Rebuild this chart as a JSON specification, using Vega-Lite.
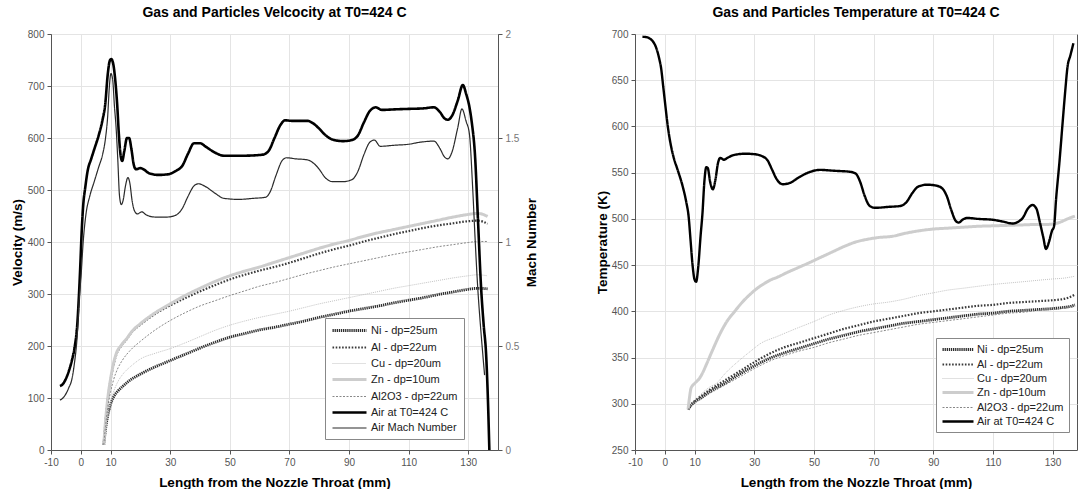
{
  "$schema": "https://vega.github.io/schema/vega-lite/v6.json",
  "padding": {"left": 9, "top": 5, "right": 0, "bottom": 0},
  "spacing": 55,
  "config": {
    "font": "Liberation Sans",
    "view": {"stroke": "#555555", "strokeWidth": 1},
    "axis": {
      "labelFont": "Liberation Sans", "labelFontSize": 10, "labelColor": "#555555",
      "titleFont": "Liberation Sans", "titleFontSize": 13.5, "titleFontWeight": "bold", "titleColor": "#000000",
      "gridColor": "#e4e4e4", "domainColor": "#555555", "tickColor": "#555555", "tickSize": 4, "labelPadding": 3
    },
    "title": {"font": "Liberation Sans", "fontSize": 14, "fontWeight": "bold", "color": "#000000", "offset": 9, "frame": "group"}
  },
  "datasets": {
    "vel": [
      {"s":"Ni - dp=25um","x":7.7,"v":10},{"s":"Ni - dp=25um","x":8.3,"v":40},{"s":"Ni - dp=25um","x":9,"v":65},{"s":"Ni - dp=25um","x":10,"v":88},{"s":"Ni - dp=25um","x":11,"v":102},{"s":"Ni - dp=25um","x":12.4,"v":113},{"s":"Ni - dp=25um","x":14,"v":122},{"s":"Ni - dp=25um","x":16,"v":132},{"s":"Ni - dp=25um","x":20,"v":146},{"s":"Ni - dp=25um","x":25,"v":160},{"s":"Ni - dp=25um","x":30,"v":172},{"s":"Ni - dp=25um","x":35,"v":184},{"s":"Ni - dp=25um","x":40,"v":196},{"s":"Ni - dp=25um","x":45,"v":207},{"s":"Ni - dp=25um","x":50,"v":217},{"s":"Ni - dp=25um","x":55,"v":224},{"s":"Ni - dp=25um","x":60,"v":231},{"s":"Ni - dp=25um","x":65,"v":236},{"s":"Ni - dp=25um","x":70,"v":242},{"s":"Ni - dp=25um","x":75,"v":248},{"s":"Ni - dp=25um","x":80,"v":255},{"s":"Ni - dp=25um","x":85,"v":261},{"s":"Ni - dp=25um","x":90,"v":267},{"s":"Ni - dp=25um","x":95,"v":272},{"s":"Ni - dp=25um","x":100,"v":277},{"s":"Ni - dp=25um","x":105,"v":283},{"s":"Ni - dp=25um","x":110,"v":288},{"s":"Ni - dp=25um","x":115,"v":293},{"s":"Ni - dp=25um","x":120,"v":299},{"s":"Ni - dp=25um","x":125,"v":304},{"s":"Ni - dp=25um","x":130,"v":309},{"s":"Ni - dp=25um","x":133,"v":311},{"s":"Ni - dp=25um","x":136.5,"v":310},
      {"s":"Al - dp=22um","x":7.7,"v":10},{"s":"Al - dp=22um","x":8.3,"v":55},{"s":"Al - dp=22um","x":9,"v":95},{"s":"Al - dp=22um","x":10,"v":135},{"s":"Al - dp=22um","x":11,"v":165},{"s":"Al - dp=22um","x":12,"v":185},{"s":"Al - dp=22um","x":13.5,"v":200},{"s":"Al - dp=22um","x":15.5,"v":214},{"s":"Al - dp=22um","x":17,"v":226},{"s":"Al - dp=22um","x":20,"v":241},{"s":"Al - dp=22um","x":25,"v":262},{"s":"Al - dp=22um","x":30,"v":278},{"s":"Al - dp=22um","x":35,"v":292},{"s":"Al - dp=22um","x":40,"v":305},{"s":"Al - dp=22um","x":45,"v":317},{"s":"Al - dp=22um","x":50,"v":328},{"s":"Al - dp=22um","x":55,"v":337},{"s":"Al - dp=22um","x":60,"v":345},{"s":"Al - dp=22um","x":65,"v":352},{"s":"Al - dp=22um","x":70,"v":360},{"s":"Al - dp=22um","x":75,"v":369},{"s":"Al - dp=22um","x":80,"v":378},{"s":"Al - dp=22um","x":85,"v":386},{"s":"Al - dp=22um","x":90,"v":393},{"s":"Al - dp=22um","x":95,"v":401},{"s":"Al - dp=22um","x":100,"v":408},{"s":"Al - dp=22um","x":105,"v":415},{"s":"Al - dp=22um","x":110,"v":421},{"s":"Al - dp=22um","x":115,"v":427},{"s":"Al - dp=22um","x":120,"v":432},{"s":"Al - dp=22um","x":125,"v":436},{"s":"Al - dp=22um","x":130,"v":440},{"s":"Al - dp=22um","x":133,"v":441},{"s":"Al - dp=22um","x":135,"v":439},{"s":"Al - dp=22um","x":136.5,"v":435},
      {"s":"Cu - dp=20um","x":7.7,"v":10},{"s":"Cu - dp=20um","x":8.3,"v":38},{"s":"Cu - dp=20um","x":9,"v":66},{"s":"Cu - dp=20um","x":10,"v":93},{"s":"Cu - dp=20um","x":11,"v":112},{"s":"Cu - dp=20um","x":12.5,"v":132},{"s":"Cu - dp=20um","x":14,"v":145},{"s":"Cu - dp=20um","x":17,"v":162},{"s":"Cu - dp=20um","x":20,"v":175},{"s":"Cu - dp=20um","x":25,"v":186},{"s":"Cu - dp=20um","x":30,"v":195},{"s":"Cu - dp=20um","x":35,"v":206},{"s":"Cu - dp=20um","x":40,"v":218},{"s":"Cu - dp=20um","x":45,"v":230},{"s":"Cu - dp=20um","x":50,"v":240},{"s":"Cu - dp=20um","x":55,"v":248},{"s":"Cu - dp=20um","x":60,"v":255},{"s":"Cu - dp=20um","x":65,"v":261},{"s":"Cu - dp=20um","x":70,"v":267},{"s":"Cu - dp=20um","x":75,"v":274},{"s":"Cu - dp=20um","x":80,"v":281},{"s":"Cu - dp=20um","x":85,"v":287},{"s":"Cu - dp=20um","x":90,"v":293},{"s":"Cu - dp=20um","x":95,"v":299},{"s":"Cu - dp=20um","x":100,"v":305},{"s":"Cu - dp=20um","x":105,"v":311},{"s":"Cu - dp=20um","x":110,"v":316},{"s":"Cu - dp=20um","x":115,"v":321},{"s":"Cu - dp=20um","x":120,"v":326},{"s":"Cu - dp=20um","x":125,"v":331},{"s":"Cu - dp=20um","x":130,"v":335},{"s":"Cu - dp=20um","x":133,"v":337},{"s":"Cu - dp=20um","x":136.5,"v":335},
      {"s":"Zn - dp=10um","x":7.7,"v":10},{"s":"Zn - dp=10um","x":8.3,"v":56},{"s":"Zn - dp=10um","x":9,"v":97},{"s":"Zn - dp=10um","x":10,"v":137},{"s":"Zn - dp=10um","x":11,"v":167},{"s":"Zn - dp=10um","x":12,"v":187},{"s":"Zn - dp=10um","x":13.5,"v":201},{"s":"Zn - dp=10um","x":15.5,"v":215},{"s":"Zn - dp=10um","x":17,"v":227},{"s":"Zn - dp=10um","x":20,"v":243},{"s":"Zn - dp=10um","x":25,"v":264},{"s":"Zn - dp=10um","x":30,"v":281},{"s":"Zn - dp=10um","x":35,"v":297},{"s":"Zn - dp=10um","x":40,"v":311},{"s":"Zn - dp=10um","x":45,"v":324},{"s":"Zn - dp=10um","x":50,"v":335},{"s":"Zn - dp=10um","x":55,"v":344},{"s":"Zn - dp=10um","x":60,"v":352},{"s":"Zn - dp=10um","x":65,"v":361},{"s":"Zn - dp=10um","x":70,"v":370},{"s":"Zn - dp=10um","x":75,"v":379},{"s":"Zn - dp=10um","x":80,"v":388},{"s":"Zn - dp=10um","x":85,"v":396},{"s":"Zn - dp=10um","x":90,"v":403},{"s":"Zn - dp=10um","x":95,"v":411},{"s":"Zn - dp=10um","x":100,"v":418},{"s":"Zn - dp=10um","x":105,"v":424},{"s":"Zn - dp=10um","x":110,"v":430},{"s":"Zn - dp=10um","x":115,"v":436},{"s":"Zn - dp=10um","x":120,"v":442},{"s":"Zn - dp=10um","x":125,"v":448},{"s":"Zn - dp=10um","x":130,"v":453},{"s":"Zn - dp=10um","x":133,"v":455},{"s":"Zn - dp=10um","x":135,"v":453},{"s":"Zn - dp=10um","x":136.5,"v":449},
      {"s":"Al2O3 - dp=22um","x":7.7,"v":10},{"s":"Al2O3 - dp=22um","x":8.3,"v":45},{"s":"Al2O3 - dp=22um","x":9,"v":80},{"s":"Al2O3 - dp=22um","x":10,"v":112},{"s":"Al2O3 - dp=22um","x":11,"v":135},{"s":"Al2O3 - dp=22um","x":12.5,"v":158},{"s":"Al2O3 - dp=22um","x":14,"v":173},{"s":"Al2O3 - dp=22um","x":17,"v":194},{"s":"Al2O3 - dp=22um","x":20,"v":209},{"s":"Al2O3 - dp=22um","x":25,"v":231},{"s":"Al2O3 - dp=22um","x":30,"v":249},{"s":"Al2O3 - dp=22um","x":35,"v":264},{"s":"Al2O3 - dp=22um","x":40,"v":277},{"s":"Al2O3 - dp=22um","x":45,"v":287},{"s":"Al2O3 - dp=22um","x":50,"v":297},{"s":"Al2O3 - dp=22um","x":55,"v":306},{"s":"Al2O3 - dp=22um","x":60,"v":315},{"s":"Al2O3 - dp=22um","x":65,"v":322},{"s":"Al2O3 - dp=22um","x":70,"v":330},{"s":"Al2O3 - dp=22um","x":75,"v":338},{"s":"Al2O3 - dp=22um","x":80,"v":345},{"s":"Al2O3 - dp=22um","x":85,"v":352},{"s":"Al2O3 - dp=22um","x":90,"v":358},{"s":"Al2O3 - dp=22um","x":95,"v":364},{"s":"Al2O3 - dp=22um","x":100,"v":370},{"s":"Al2O3 - dp=22um","x":105,"v":376},{"s":"Al2O3 - dp=22um","x":110,"v":381},{"s":"Al2O3 - dp=22um","x":115,"v":386},{"s":"Al2O3 - dp=22um","x":120,"v":391},{"s":"Al2O3 - dp=22um","x":125,"v":395},{"s":"Al2O3 - dp=22um","x":130,"v":399},{"s":"Al2O3 - dp=22um","x":133,"v":401},{"s":"Al2O3 - dp=22um","x":136.5,"v":401}
    ],
    "air": [
      {"s":"Air at T0=424 C","x":-7,"v":123},{"s":"Air at T0=424 C","x":-6,"v":127},{"s":"Air at T0=424 C","x":-5,"v":137},{"s":"Air at T0=424 C","x":-4,"v":152},{"s":"Air at T0=424 C","x":-3,"v":172},{"s":"Air at T0=424 C","x":-2,"v":200},{"s":"Air at T0=424 C","x":-1.2,"v":240},{"s":"Air at T0=424 C","x":-0.6,"v":300},{"s":"Air at T0=424 C","x":-0.2,"v":350},{"s":"Air at T0=424 C","x":0.3,"v":420},{"s":"Air at T0=424 C","x":0.8,"v":470},{"s":"Air at T0=424 C","x":1.5,"v":505},{"s":"Air at T0=424 C","x":2.3,"v":537},{"s":"Air at T0=424 C","x":3.5,"v":560},{"s":"Air at T0=424 C","x":4.5,"v":578},{"s":"Air at T0=424 C","x":6,"v":605},{"s":"Air at T0=424 C","x":7.3,"v":635},{"s":"Air at T0=424 C","x":8.2,"v":665},{"s":"Air at T0=424 C","x":9,"v":720},{"s":"Air at T0=424 C","x":9.7,"v":748},{"s":"Air at T0=424 C","x":10.2,"v":752},{"s":"Air at T0=424 C","x":10.9,"v":742},{"s":"Air at T0=424 C","x":11.5,"v":715},{"s":"Air at T0=424 C","x":12.2,"v":665},{"s":"Air at T0=424 C","x":12.8,"v":605},{"s":"Air at T0=424 C","x":13.4,"v":565},{"s":"Air at T0=424 C","x":13.9,"v":556},{"s":"Air at T0=424 C","x":14.6,"v":575},{"s":"Air at T0=424 C","x":15.5,"v":600},{"s":"Air at T0=424 C","x":16.2,"v":600},{"s":"Air at T0=424 C","x":17,"v":578},{"s":"Air at T0=424 C","x":17.8,"v":548},{"s":"Air at T0=424 C","x":18.5,"v":540},{"s":"Air at T0=424 C","x":20,"v":542},{"s":"Air at T0=424 C","x":21,"v":540},{"s":"Air at T0=424 C","x":23,"v":532},{"s":"Air at T0=424 C","x":26,"v":529},{"s":"Air at T0=424 C","x":29,"v":530},{"s":"Air at T0=424 C","x":32,"v":537},{"s":"Air at T0=424 C","x":34,"v":546},{"s":"Air at T0=424 C","x":36,"v":570},{"s":"Air at T0=424 C","x":38,"v":590},{"s":"Air at T0=424 C","x":40,"v":590},{"s":"Air at T0=424 C","x":42,"v":583},{"s":"Air at T0=424 C","x":45,"v":572},{"s":"Air at T0=424 C","x":48,"v":566},{"s":"Air at T0=424 C","x":55,"v":566},{"s":"Air at T0=424 C","x":61,"v":568},{"s":"Air at T0=424 C","x":63,"v":575},{"s":"Air at T0=424 C","x":65,"v":600},{"s":"Air at T0=424 C","x":67,"v":625},{"s":"Air at T0=424 C","x":68.5,"v":634},{"s":"Air at T0=424 C","x":71,"v":633},{"s":"Air at T0=424 C","x":76,"v":633},{"s":"Air at T0=424 C","x":78,"v":628},{"s":"Air at T0=424 C","x":80,"v":618},{"s":"Air at T0=424 C","x":82,"v":606},{"s":"Air at T0=424 C","x":84.5,"v":597},{"s":"Air at T0=424 C","x":88,"v":594},{"s":"Air at T0=424 C","x":91,"v":596},{"s":"Air at T0=424 C","x":93,"v":605},{"s":"Air at T0=424 C","x":95,"v":630},{"s":"Air at T0=424 C","x":97,"v":652},{"s":"Air at T0=424 C","x":99,"v":659},{"s":"Air at T0=424 C","x":101,"v":654},{"s":"Air at T0=424 C","x":105,"v":655},{"s":"Air at T0=424 C","x":110,"v":656},{"s":"Air at T0=424 C","x":115,"v":657},{"s":"Air at T0=424 C","x":118.5,"v":659},{"s":"Air at T0=424 C","x":120.5,"v":650},{"s":"Air at T0=424 C","x":122,"v":638},{"s":"Air at T0=424 C","x":123.2,"v":635},{"s":"Air at T0=424 C","x":124.5,"v":642},{"s":"Air at T0=424 C","x":126.5,"v":672},{"s":"Air at T0=424 C","x":128.2,"v":702},{"s":"Air at T0=424 C","x":129.3,"v":685},{"s":"Air at T0=424 C","x":130.4,"v":660},{"s":"Air at T0=424 C","x":131.2,"v":630},{"s":"Air at T0=424 C","x":132.3,"v":565},{"s":"Air at T0=424 C","x":133.3,"v":440},{"s":"Air at T0=424 C","x":134.3,"v":315},{"s":"Air at T0=424 C","x":135.2,"v":240},{"s":"Air at T0=424 C","x":136,"v":185},{"s":"Air at T0=424 C","x":136.6,"v":100},{"s":"Air at T0=424 C","x":137.1,"v":0}
    ],
    "mach": [
      {"s":"Air Mach Number","x":-7,"m":0.24},{"s":"Air Mach Number","x":-6,"m":0.25},{"s":"Air Mach Number","x":-5,"m":0.27},{"s":"Air Mach Number","x":-4,"m":0.3},{"s":"Air Mach Number","x":-3,"m":0.34},{"s":"Air Mach Number","x":-2.2,"m":0.41},{"s":"Air Mach Number","x":-1.2,"m":0.55},{"s":"Air Mach Number","x":-0.5,"m":0.73},{"s":"Air Mach Number","x":0.1,"m":0.84},{"s":"Air Mach Number","x":0.8,"m":1.0},{"s":"Air Mach Number","x":1.7,"m":1.13},{"s":"Air Mach Number","x":3,"m":1.22},{"s":"Air Mach Number","x":4.5,"m":1.29},{"s":"Air Mach Number","x":6,"m":1.36},{"s":"Air Mach Number","x":7.3,"m":1.42},{"s":"Air Mach Number","x":8.3,"m":1.5},{"s":"Air Mach Number","x":9,"m":1.6},{"s":"Air Mach Number","x":9.6,"m":1.75},{"s":"Air Mach Number","x":10.1,"m":1.81},{"s":"Air Mach Number","x":10.7,"m":1.78},{"s":"Air Mach Number","x":11.3,"m":1.65},{"s":"Air Mach Number","x":11.8,"m":1.56},{"s":"Air Mach Number","x":12.4,"m":1.4},{"s":"Air Mach Number","x":13,"m":1.22},{"s":"Air Mach Number","x":13.6,"m":1.18},{"s":"Air Mach Number","x":14.2,"m":1.2},{"s":"Air Mach Number","x":15,"m":1.27},{"s":"Air Mach Number","x":15.8,"m":1.31},{"s":"Air Mach Number","x":16.5,"m":1.28},{"s":"Air Mach Number","x":17.2,"m":1.2},{"s":"Air Mach Number","x":18,"m":1.15},{"s":"Air Mach Number","x":19,"m":1.135},{"s":"Air Mach Number","x":20.5,"m":1.145},{"s":"Air Mach Number","x":22,"m":1.13},{"s":"Air Mach Number","x":25,"m":1.12},{"s":"Air Mach Number","x":29,"m":1.12},{"s":"Air Mach Number","x":32,"m":1.13},{"s":"Air Mach Number","x":34,"m":1.16},{"s":"Air Mach Number","x":36,"m":1.22},{"s":"Air Mach Number","x":38,"m":1.27},{"s":"Air Mach Number","x":39.5,"m":1.28},{"s":"Air Mach Number","x":42,"m":1.265},{"s":"Air Mach Number","x":45,"m":1.235},{"s":"Air Mach Number","x":48,"m":1.21},{"s":"Air Mach Number","x":53,"m":1.205},{"s":"Air Mach Number","x":58,"m":1.21},{"s":"Air Mach Number","x":62,"m":1.215},{"s":"Air Mach Number","x":63.5,"m":1.24},{"s":"Air Mach Number","x":65.5,"m":1.32},{"s":"Air Mach Number","x":67.5,"m":1.39},{"s":"Air Mach Number","x":69,"m":1.405},{"s":"Air Mach Number","x":72,"m":1.4},{"s":"Air Mach Number","x":76,"m":1.395},{"s":"Air Mach Number","x":78,"m":1.38},{"s":"Air Mach Number","x":80,"m":1.35},{"s":"Air Mach Number","x":82,"m":1.31},{"s":"Air Mach Number","x":84.5,"m":1.29},{"s":"Air Mach Number","x":88,"m":1.29},{"s":"Air Mach Number","x":91,"m":1.3},{"s":"Air Mach Number","x":93,"m":1.34},{"s":"Air Mach Number","x":95,"m":1.42},{"s":"Air Mach Number","x":97,"m":1.48},{"s":"Air Mach Number","x":98.5,"m":1.49},{"s":"Air Mach Number","x":100.5,"m":1.46},{"s":"Air Mach Number","x":105,"m":1.465},{"s":"Air Mach Number","x":110,"m":1.47},{"s":"Air Mach Number","x":114,"m":1.48},{"s":"Air Mach Number","x":118.5,"m":1.485},{"s":"Air Mach Number","x":120.5,"m":1.45},{"s":"Air Mach Number","x":122,"m":1.41},{"s":"Air Mach Number","x":123.2,"m":1.4},{"s":"Air Mach Number","x":124.5,"m":1.43},{"s":"Air Mach Number","x":126.5,"m":1.55},{"s":"Air Mach Number","x":127.9,"m":1.64},{"s":"Air Mach Number","x":129.3,"m":1.58},{"s":"Air Mach Number","x":130.4,"m":1.52},{"s":"Air Mach Number","x":131.5,"m":1.26},{"s":"Air Mach Number","x":132.3,"m":1.02},{"s":"Air Mach Number","x":133.2,"m":0.78},{"s":"Air Mach Number","x":134.1,"m":0.6},{"s":"Air Mach Number","x":134.9,"m":0.46},{"s":"Air Mach Number","x":135.5,"m":0.36}
    ],
    "temp": [
      {"s":"Ni - dp=25um","x":7.8,"t":294},{"s":"Ni - dp=25um","x":9,"t":299},{"s":"Ni - dp=25um","x":10,"t":302},{"s":"Ni - dp=25um","x":12,"t":306},{"s":"Ni - dp=25um","x":15,"t":313},{"s":"Ni - dp=25um","x":20,"t":322},{"s":"Ni - dp=25um","x":25,"t":332},{"s":"Ni - dp=25um","x":30,"t":341},{"s":"Ni - dp=25um","x":35,"t":349},{"s":"Ni - dp=25um","x":40,"t":355},{"s":"Ni - dp=25um","x":45,"t":360},{"s":"Ni - dp=25um","x":50,"t":365},{"s":"Ni - dp=25um","x":55,"t":370},{"s":"Ni - dp=25um","x":60,"t":374},{"s":"Ni - dp=25um","x":65,"t":378},{"s":"Ni - dp=25um","x":70,"t":381},{"s":"Ni - dp=25um","x":75,"t":384},{"s":"Ni - dp=25um","x":80,"t":387},{"s":"Ni - dp=25um","x":85,"t":389},{"s":"Ni - dp=25um","x":90,"t":391},{"s":"Ni - dp=25um","x":95,"t":393},{"s":"Ni - dp=25um","x":100,"t":395},{"s":"Ni - dp=25um","x":105,"t":397},{"s":"Ni - dp=25um","x":110,"t":398},{"s":"Ni - dp=25um","x":115,"t":400},{"s":"Ni - dp=25um","x":120,"t":401},{"s":"Ni - dp=25um","x":125,"t":402},{"s":"Ni - dp=25um","x":130,"t":403},{"s":"Ni - dp=25um","x":133,"t":404},{"s":"Ni - dp=25um","x":135.5,"t":405},{"s":"Ni - dp=25um","x":137.5,"t":407},
      {"s":"Al - dp=22um","x":7.8,"t":294},{"s":"Al - dp=22um","x":9,"t":300},{"s":"Al - dp=22um","x":10,"t":303},{"s":"Al - dp=22um","x":12,"t":308},{"s":"Al - dp=22um","x":15,"t":315},{"s":"Al - dp=22um","x":20,"t":325},{"s":"Al - dp=22um","x":25,"t":335},{"s":"Al - dp=22um","x":30,"t":345},{"s":"Al - dp=22um","x":35,"t":354},{"s":"Al - dp=22um","x":40,"t":361},{"s":"Al - dp=22um","x":45,"t":366},{"s":"Al - dp=22um","x":50,"t":371},{"s":"Al - dp=22um","x":55,"t":376},{"s":"Al - dp=22um","x":60,"t":381},{"s":"Al - dp=22um","x":65,"t":385},{"s":"Al - dp=22um","x":70,"t":389},{"s":"Al - dp=22um","x":75,"t":392},{"s":"Al - dp=22um","x":80,"t":395},{"s":"Al - dp=22um","x":85,"t":398},{"s":"Al - dp=22um","x":90,"t":400},{"s":"Al - dp=22um","x":95,"t":402},{"s":"Al - dp=22um","x":100,"t":404},{"s":"Al - dp=22um","x":105,"t":406},{"s":"Al - dp=22um","x":110,"t":407},{"s":"Al - dp=22um","x":115,"t":409},{"s":"Al - dp=22um","x":120,"t":410},{"s":"Al - dp=22um","x":125,"t":411},{"s":"Al - dp=22um","x":130,"t":412},{"s":"Al - dp=22um","x":133,"t":413},{"s":"Al - dp=22um","x":135.5,"t":415},{"s":"Al - dp=22um","x":137.5,"t":418},
      {"s":"Cu - dp=20um","x":7.8,"t":294},{"s":"Cu - dp=20um","x":9,"t":300},{"s":"Cu - dp=20um","x":10,"t":303},{"s":"Cu - dp=20um","x":12,"t":310},{"s":"Cu - dp=20um","x":15,"t":318},{"s":"Cu - dp=20um","x":17.6,"t":323},{"s":"Cu - dp=20um","x":20,"t":332},{"s":"Cu - dp=20um","x":25,"t":347},{"s":"Cu - dp=20um","x":28.8,"t":357},{"s":"Cu - dp=20um","x":32,"t":365},{"s":"Cu - dp=20um","x":37.8,"t":373},{"s":"Cu - dp=20um","x":44.5,"t":382},{"s":"Cu - dp=20um","x":50,"t":389},{"s":"Cu - dp=20um","x":55,"t":396},{"s":"Cu - dp=20um","x":60,"t":401},{"s":"Cu - dp=20um","x":65,"t":405},{"s":"Cu - dp=20um","x":70,"t":408},{"s":"Cu - dp=20um","x":75,"t":410},{"s":"Cu - dp=20um","x":80,"t":413},{"s":"Cu - dp=20um","x":85,"t":417},{"s":"Cu - dp=20um","x":90,"t":420},{"s":"Cu - dp=20um","x":95,"t":423},{"s":"Cu - dp=20um","x":100,"t":425},{"s":"Cu - dp=20um","x":110,"t":429},{"s":"Cu - dp=20um","x":120,"t":432},{"s":"Cu - dp=20um","x":130,"t":435},{"s":"Cu - dp=20um","x":134,"t":436},{"s":"Cu - dp=20um","x":137.5,"t":438},
      {"s":"Zn - dp=10um","x":7.8,"t":294},{"s":"Zn - dp=10um","x":8.2,"t":305},{"s":"Zn - dp=10um","x":8.8,"t":317},{"s":"Zn - dp=10um","x":10,"t":322},{"s":"Zn - dp=10um","x":11.5,"t":327},{"s":"Zn - dp=10um","x":12.6,"t":333},{"s":"Zn - dp=10um","x":14,"t":343},{"s":"Zn - dp=10um","x":16,"t":358},{"s":"Zn - dp=10um","x":18.7,"t":377},{"s":"Zn - dp=10um","x":21,"t":390},{"s":"Zn - dp=10um","x":23.2,"t":399},{"s":"Zn - dp=10um","x":26,"t":410},{"s":"Zn - dp=10um","x":28.8,"t":419},{"s":"Zn - dp=10um","x":31,"t":425},{"s":"Zn - dp=10um","x":33.3,"t":430},{"s":"Zn - dp=10um","x":35.5,"t":434},{"s":"Zn - dp=10um","x":37.8,"t":437},{"s":"Zn - dp=10um","x":41,"t":442},{"s":"Zn - dp=10um","x":44.5,"t":447},{"s":"Zn - dp=10um","x":48,"t":452},{"s":"Zn - dp=10um","x":52,"t":458},{"s":"Zn - dp=10um","x":56,"t":464},{"s":"Zn - dp=10um","x":60,"t":470},{"s":"Zn - dp=10um","x":64,"t":475},{"s":"Zn - dp=10um","x":68,"t":478},{"s":"Zn - dp=10um","x":72,"t":480},{"s":"Zn - dp=10um","x":76,"t":481},{"s":"Zn - dp=10um","x":80,"t":484},{"s":"Zn - dp=10um","x":85,"t":487},{"s":"Zn - dp=10um","x":90,"t":489},{"s":"Zn - dp=10um","x":95,"t":490},{"s":"Zn - dp=10um","x":100,"t":491},{"s":"Zn - dp=10um","x":105,"t":492},{"s":"Zn - dp=10um","x":110,"t":492.5},{"s":"Zn - dp=10um","x":115,"t":493},{"s":"Zn - dp=10um","x":120,"t":493.5},{"s":"Zn - dp=10um","x":125,"t":494},{"s":"Zn - dp=10um","x":128,"t":494},{"s":"Zn - dp=10um","x":131,"t":495},{"s":"Zn - dp=10um","x":133,"t":497},{"s":"Zn - dp=10um","x":135,"t":500},{"s":"Zn - dp=10um","x":137.5,"t":503},
      {"s":"Al2O3 - dp=22um","x":7.8,"t":294},{"s":"Al2O3 - dp=22um","x":9,"t":298},{"s":"Al2O3 - dp=22um","x":10,"t":301},{"s":"Al2O3 - dp=22um","x":12,"t":305},{"s":"Al2O3 - dp=22um","x":15,"t":311},{"s":"Al2O3 - dp=22um","x":20,"t":320},{"s":"Al2O3 - dp=22um","x":25,"t":329},{"s":"Al2O3 - dp=22um","x":30,"t":338},{"s":"Al2O3 - dp=22um","x":35,"t":346},{"s":"Al2O3 - dp=22um","x":40,"t":352},{"s":"Al2O3 - dp=22um","x":45,"t":357},{"s":"Al2O3 - dp=22um","x":50,"t":361},{"s":"Al2O3 - dp=22um","x":55,"t":366},{"s":"Al2O3 - dp=22um","x":60,"t":370},{"s":"Al2O3 - dp=22um","x":65,"t":374},{"s":"Al2O3 - dp=22um","x":70,"t":377},{"s":"Al2O3 - dp=22um","x":75,"t":380},{"s":"Al2O3 - dp=22um","x":80,"t":383},{"s":"Al2O3 - dp=22um","x":85,"t":386},{"s":"Al2O3 - dp=22um","x":90,"t":388},{"s":"Al2O3 - dp=22um","x":95,"t":390},{"s":"Al2O3 - dp=22um","x":100,"t":392},{"s":"Al2O3 - dp=22um","x":105,"t":394},{"s":"Al2O3 - dp=22um","x":110,"t":396},{"s":"Al2O3 - dp=22um","x":115,"t":398},{"s":"Al2O3 - dp=22um","x":120,"t":399},{"s":"Al2O3 - dp=22um","x":125,"t":401},{"s":"Al2O3 - dp=22um","x":130,"t":402},{"s":"Al2O3 - dp=22um","x":133,"t":403},{"s":"Al2O3 - dp=22um","x":137.5,"t":405},
      {"s":"Air at T0=424 C","x":-7.5,"t":697},{"s":"Air at T0=424 C","x":-6,"t":696.5},{"s":"Air at T0=424 C","x":-5,"t":695},{"s":"Air at T0=424 C","x":-4,"t":692},{"s":"Air at T0=424 C","x":-3,"t":686},{"s":"Air at T0=424 C","x":-2,"t":675},{"s":"Air at T0=424 C","x":-1.2,"t":662},{"s":"Air at T0=424 C","x":-0.5,"t":642},{"s":"Air at T0=424 C","x":0.2,"t":622},{"s":"Air at T0=424 C","x":1,"t":600},{"s":"Air at T0=424 C","x":2,"t":580},{"s":"Air at T0=424 C","x":3,"t":566},{"s":"Air at T0=424 C","x":4.3,"t":553},{"s":"Air at T0=424 C","x":6,"t":535},{"s":"Air at T0=424 C","x":7.2,"t":518},{"s":"Air at T0=424 C","x":8,"t":502},{"s":"Air at T0=424 C","x":8.6,"t":478},{"s":"Air at T0=424 C","x":9.3,"t":450},{"s":"Air at T0=424 C","x":10,"t":434},{"s":"Air at T0=424 C","x":10.5,"t":432},{"s":"Air at T0=424 C","x":11.2,"t":448},{"s":"Air at T0=424 C","x":12,"t":482},{"s":"Air at T0=424 C","x":12.6,"t":505},{"s":"Air at T0=424 C","x":13.3,"t":542},{"s":"Air at T0=424 C","x":13.9,"t":556},{"s":"Air at T0=424 C","x":14.4,"t":555},{"s":"Air at T0=424 C","x":15.2,"t":540},{"s":"Air at T0=424 C","x":16.1,"t":532},{"s":"Air at T0=424 C","x":17,"t":543},{"s":"Air at T0=424 C","x":17.8,"t":560},{"s":"Air at T0=424 C","x":18.6,"t":566},{"s":"Air at T0=424 C","x":19.8,"t":564},{"s":"Air at T0=424 C","x":21,"t":566},{"s":"Air at T0=424 C","x":23,"t":569},{"s":"Air at T0=424 C","x":27,"t":570.5},{"s":"Air at T0=424 C","x":30,"t":570},{"s":"Air at T0=424 C","x":32.5,"t":568},{"s":"Air at T0=424 C","x":34.5,"t":563},{"s":"Air at T0=424 C","x":36,"t":553},{"s":"Air at T0=424 C","x":37.5,"t":543},{"s":"Air at T0=424 C","x":39.5,"t":537.5},{"s":"Air at T0=424 C","x":42,"t":539},{"s":"Air at T0=424 C","x":45,"t":545},{"s":"Air at T0=424 C","x":48,"t":550},{"s":"Air at T0=424 C","x":52,"t":553},{"s":"Air at T0=424 C","x":57,"t":552},{"s":"Air at T0=424 C","x":62,"t":551},{"s":"Air at T0=424 C","x":64,"t":549},{"s":"Air at T0=424 C","x":65.5,"t":540},{"s":"Air at T0=424 C","x":67,"t":525},{"s":"Air at T0=424 C","x":68.7,"t":514},{"s":"Air at T0=424 C","x":70.5,"t":512},{"s":"Air at T0=424 C","x":75,"t":513},{"s":"Air at T0=424 C","x":79,"t":514},{"s":"Air at T0=424 C","x":81,"t":518},{"s":"Air at T0=424 C","x":83,"t":528},{"s":"Air at T0=424 C","x":85,"t":535},{"s":"Air at T0=424 C","x":88,"t":537},{"s":"Air at T0=424 C","x":91,"t":536},{"s":"Air at T0=424 C","x":93,"t":533},{"s":"Air at T0=424 C","x":94.5,"t":525},{"s":"Air at T0=424 C","x":96,"t":510},{"s":"Air at T0=424 C","x":97.5,"t":498},{"s":"Air at T0=424 C","x":98.5,"t":496},{"s":"Air at T0=424 C","x":100,"t":499.5},{"s":"Air at T0=424 C","x":101.5,"t":501},{"s":"Air at T0=424 C","x":105,"t":500},{"s":"Air at T0=424 C","x":110,"t":499},{"s":"Air at T0=424 C","x":113.5,"t":497},{"s":"Air at T0=424 C","x":116.7,"t":495},{"s":"Air at T0=424 C","x":118.5,"t":497},{"s":"Air at T0=424 C","x":120,"t":501},{"s":"Air at T0=424 C","x":121.7,"t":511},{"s":"Air at T0=424 C","x":123.3,"t":515},{"s":"Air at T0=424 C","x":124.6,"t":511},{"s":"Air at T0=424 C","x":125.7,"t":497},{"s":"Air at T0=424 C","x":126.9,"t":480},{"s":"Air at T0=424 C","x":127.8,"t":467.5},{"s":"Air at T0=424 C","x":128.8,"t":475},{"s":"Air at T0=424 C","x":129.8,"t":487},{"s":"Air at T0=424 C","x":130.5,"t":492},{"s":"Air at T0=424 C","x":131.2,"t":522},{"s":"Air at T0=424 C","x":132.3,"t":561},{"s":"Air at T0=424 C","x":133.4,"t":605},{"s":"Air at T0=424 C","x":134.3,"t":640},{"s":"Air at T0=424 C","x":135,"t":664},{"s":"Air at T0=424 C","x":136,"t":677},{"s":"Air at T0=424 C","x":137,"t":690}
    ]
  },
  "hconcat": [
    {
      "width": 447,
      "height": 416,
      "title": {"text": "Gas and Particles Velcocity at T0=424 C"},
      "encoding": {
        "x": {"field": "x", "type": "quantitative", "title": "Length from the Nozzle Throat (mm)",
          "scale": {"domain": [-10, 140], "nice": false, "zero": false},
          "axis": {"values": [-10, 0, 10, 30, 50, 70, 90, 110, 130], "labelExpr": "'' + datum.value", "titlePadding": 8, "labelFlush": false}},
        "color": {"field": "s", "type": "nominal",
          "scale": {"domain": ["Ni - dp=25um","Al - dp=22um","Cu - dp=20um","Zn - dp=10um","Al2O3 - dp=22um","Air at T0=424 C","Air Mach Number"],
            "range": ["#2e2e2e","#3a3a3a","#b4b4b4","#cdcdcd","#7a7a7a","#000000","#2a2a2a"]},
          "legend": {"title": null, "orient": "none", "legendX": 274, "legendY": 284, "symbolType": "M-1,0H5.8", "symbolSize": 100, "labelFontSize": 11, "labelColor": "#222222", "labelFont": "Liberation Sans", "strokeColor": "#888888", "fillColor": "#ffffff", "padding": 6, "rowPadding": 4, "labelOffset": 27}},
        "strokeDash": {"field": "s", "type": "nominal",
          "scale": {"domain": ["Ni - dp=25um","Al - dp=22um","Cu - dp=20um","Zn - dp=10um","Al2O3 - dp=22um","Air at T0=424 C","Air Mach Number"],
            "range": [[1.3,0.8],[1.6,1.6],[1,1],[1,0],[2,1.5],[1,0],[1,0]]},
          "legend": {"title": null, "orient": "none", "legendX": 274, "legendY": 284, "symbolType": "M-1,0H5.8", "symbolSize": 100, "labelFontSize": 11, "labelColor": "#222222", "labelFont": "Liberation Sans", "strokeColor": "#888888", "fillColor": "#ffffff", "padding": 6, "rowPadding": 4, "labelOffset": 27}},
        "strokeWidth": {"field": "s", "type": "ordinal",
          "scale": {"type": "ordinal", "domain": ["Ni - dp=25um","Al - dp=22um","Cu - dp=20um","Zn - dp=10um","Al2O3 - dp=22um","Air at T0=424 C","Air Mach Number"],
            "range": [2.8, 2.2, 0.8, 3, 0.9, 2.6, 1.2]},
          "legend": {"title": null, "orient": "none", "legendX": 274, "legendY": 284, "symbolType": "M-1,0H5.8", "symbolSize": 100, "labelFontSize": 11, "labelColor": "#222222", "labelFont": "Liberation Sans", "strokeColor": "#888888", "fillColor": "#ffffff", "padding": 6, "rowPadding": 4, "labelOffset": 27}}
      },
      "layer": [
        {
          "layer": [
            {
              "data": {"name": "vel"},
              "mark": {"type": "line", "interpolate": "monotone"},
              "encoding": {
                "y": {"field": "v", "type": "quantitative", "title": "Velocity (m/s)",
                  "scale": {"domain": [0, 800], "nice": false},
                  "axis": {"values": [0,100,200,300,400,500,600,700,800], "titlePadding": 3}}
              }
            },
            {
              "data": {"name": "air"},
              "mark": {"type": "line", "interpolate": "monotone"},
              "encoding": {
                "y": {"field": "v", "type": "quantitative"}
              }
            }
          ]
        },
        {
          "data": {"name": "mach"},
          "mark": {"type": "line", "interpolate": "monotone"},
          "encoding": {
            "y": {"field": "m", "type": "quantitative", "title": "Mach Number",
              "scale": {"domain": [0, 2], "nice": false},
              "axis": {"orient": "right", "values": [0, 0.5, 1, 1.5, 2], "labelExpr": "'' + datum.value", "grid": false, "titleAngle": 270, "titlePadding": 20, "labelColor": "#777777"}}
          }
        }
      ],
      "resolve": {"scale": {"y": "independent"}}
    },
    {
      "width": 442,
      "height": 416,
      "title": {"text": "Gas and Particles Temperature at T0=424 C"},
      "data": {"name": "temp"},
      "mark": {"type": "line", "interpolate": "monotone", "clip": true},
      "encoding": {
        "x": {"field": "x", "type": "quantitative", "title": "Length from the Nozzle Throat (mm)",
          "scale": {"domain": [-10, 138.2], "nice": false, "zero": false},
          "axis": {"values": [-10, 0, 10, 30, 50, 70, 90, 110, 130], "labelExpr": "'' + datum.value", "titlePadding": 8, "labelFlush": false}},
        "y": {"field": "t", "type": "quantitative", "title": "Temperature (K)",
          "scale": {"domain": [250, 700], "nice": false, "zero": false},
          "axis": {"values": [250,300,350,400,450,500,550,600,650,700], "titlePadding": 2}},
        "color": {"field": "s", "type": "nominal",
          "scale": {"domain": ["Ni - dp=25um","Al - dp=22um","Cu - dp=20um","Zn - dp=10um","Al2O3 - dp=22um","Air at T0=424 C"],
            "range": ["#2e2e2e","#3a3a3a","#b4b4b4","#cdcdcd","#7a7a7a","#000000"]},
          "legend": {"title": null, "orient": "none", "legendX": 301, "legendY": 304, "symbolType": "M-1,0H5.2", "symbolSize": 100, "labelFontSize": 11, "labelColor": "#222222", "labelFont": "Liberation Sans", "strokeColor": "#888888", "fillColor": "#ffffff", "padding": 5, "rowPadding": 2, "labelOffset": 23}},
        "strokeDash": {"field": "s", "type": "nominal",
          "scale": {"domain": ["Ni - dp=25um","Al - dp=22um","Cu - dp=20um","Zn - dp=10um","Al2O3 - dp=22um","Air at T0=424 C"],
            "range": [[1.3,0.8],[1.6,1.6],[1,1],[1,0],[2,1.5],[1,0]]},
          "legend": {"title": null, "orient": "none", "legendX": 301, "legendY": 304, "symbolType": "M-1,0H5.2", "symbolSize": 100, "labelFontSize": 11, "labelColor": "#222222", "labelFont": "Liberation Sans", "strokeColor": "#888888", "fillColor": "#ffffff", "padding": 5, "rowPadding": 2, "labelOffset": 23}},
        "strokeWidth": {"field": "s", "type": "ordinal",
          "scale": {"type": "ordinal", "domain": ["Ni - dp=25um","Al - dp=22um","Cu - dp=20um","Zn - dp=10um","Al2O3 - dp=22um","Air at T0=424 C"],
            "range": [2.8, 2.2, 0.8, 3, 0.9, 2.4]},
          "legend": {"title": null, "orient": "none", "legendX": 301, "legendY": 304, "symbolType": "M-1,0H5.2", "symbolSize": 100, "labelFontSize": 11, "labelColor": "#222222", "labelFont": "Liberation Sans", "strokeColor": "#888888", "fillColor": "#ffffff", "padding": 5, "rowPadding": 2, "labelOffset": 23}}
      }
    }
  ],
  "resolve": {"scale": {"color": "independent", "strokeDash": "independent", "strokeWidth": "independent"}, "legend": {"color": "independent", "strokeDash": "independent", "strokeWidth": "independent"}}
}
